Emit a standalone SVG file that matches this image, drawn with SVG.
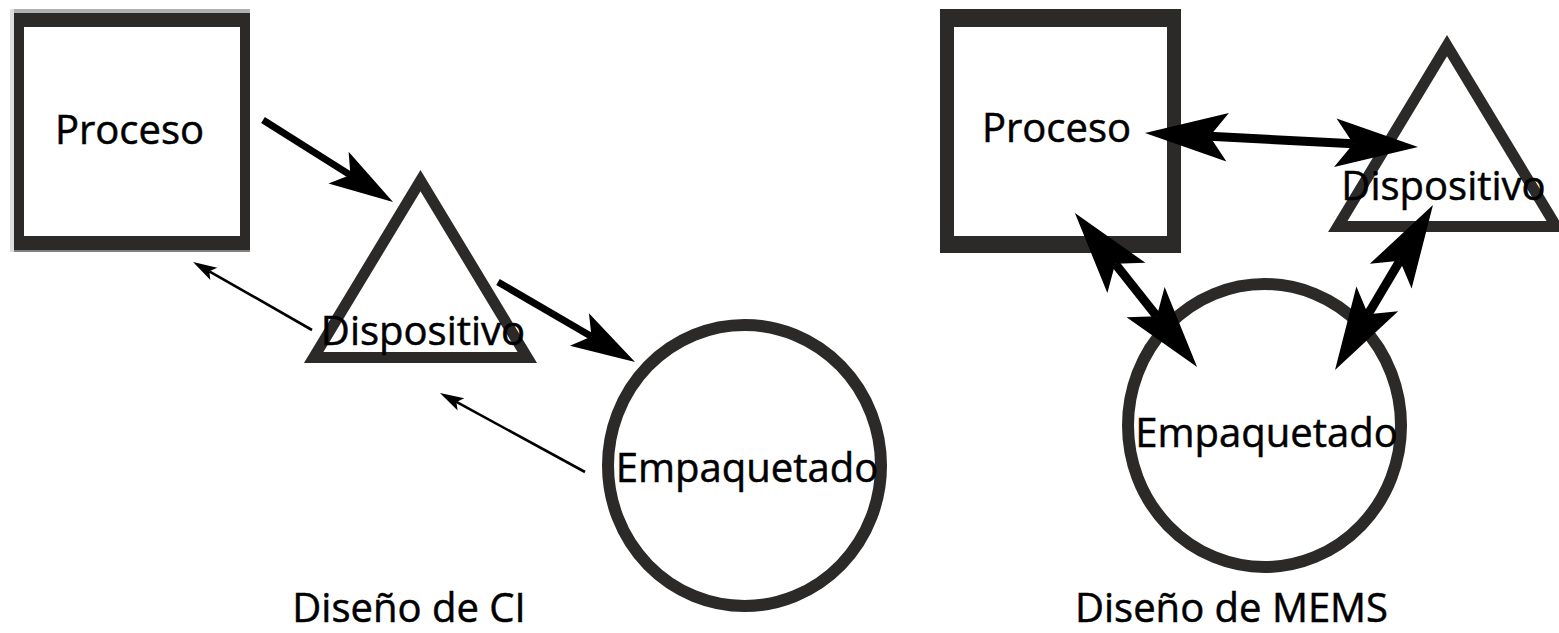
<svg xmlns="http://www.w3.org/2000/svg" width="1559" height="633" viewBox="0 0 1559 633">
  <style>
    .shape { fill: #ffffff; stroke: #2b2a28; stroke-width: 11; }
    .frame { fill: #2b2a28; fill-rule: evenodd; }
    .lbl { font-family: "Open Sans", "Liberation Sans", sans-serif; font-size: 40px; fill: #000; stroke: #000; stroke-width: 0.5; text-anchor: middle; }
    .con { stroke: #000; fill: none; stroke-linecap: butt; }
  </style>
  <defs>
    <marker id="ah" viewBox="-10 -3 10.5 6" refX="-7.2" refY="0" markerWidth="10.5" markerHeight="6" markerUnits="strokeWidth" orient="auto-start-reverse">
      <path d="M0,0 L-9.2,-2.7 L-7.2,0 L-9.2,2.7 Z" fill="#000"/>
    </marker>
  </defs>
  <rect width="1559" height="633" fill="#ffffff"/>

  <!-- Left diagram: Diseño de CI -->
  <g id="ci-proceso">
    <rect x="10" y="9" width="240" height="4" fill="#b0b0b0"/>
    <rect x="10" y="9" width="4" height="243" fill="#dddddd"/>
    <rect x="14" y="250" width="236" height="2" fill="#808080"/>
    <path class="frame" d="M14,13 H250 V250 H14 Z M24,27 V236 H240 V27 Z"/>
    <rect x="24" y="27" width="216" height="209" fill="#ffffff"/>
    <text class="lbl" x="129.5" y="144">Proceso</text>
  </g>
  <g id="ci-dispositivo">
    <polygon class="shape" points="420.5,180.6 313.7,357.5 527.3,357.5"/>
    <text class="lbl" x="423" y="345">Dispositivo</text>
  </g>
  <g id="ci-empaquetado">
    <ellipse class="shape" cx="744.5" cy="465.5" rx="136.5" ry="140.5" style="stroke-width:12"/>
    <text class="lbl" x="747" y="482">Empaquetado</text>
  </g>
  <g id="ci-title">
    <text class="lbl" x="409" y="622">Diseño de CI</text>
  </g>

  <!-- Right diagram: Diseño de MEMS -->
  <g id="mems-proceso">
    <path class="frame" d="M940,9 H1181 V253 H940 Z M954,27 V236 H1167 V27 Z"/>
    <rect x="954" y="27" width="213" height="209" fill="#ffffff"/>
    <text class="lbl" x="1056.5" y="142">Proceso</text>
  </g>
  <g id="mems-dispositivo">
    <polygon class="shape" points="1447,45.6 1337.8,226.5 1556.2,226.5"/>
    <text class="lbl" x="1443.5" y="200">Dispositivo</text>
  </g>
  <g id="mems-empaquetado">
    <ellipse class="shape" cx="1264.5" cy="425.5" rx="136.5" ry="141.5" style="stroke-width:12"/>
    <text class="lbl" x="1266.5" y="447">Empaquetado</text>
  </g>
  <g id="mems-title">
    <text class="lbl" x="1231.5" y="622">Diseño de MEMS</text>
  </g>

  <g id="connectors">
    <!-- CI -->
    <line class="con" x1="263" y1="120" x2="350.4" y2="175.1" stroke-width="7" marker-end="url(#ah)"/>
    <line class="con" x1="498" y1="282" x2="591.5" y2="336.6" stroke-width="7" marker-end="url(#ah)"/>
    <line class="con" x1="312" y1="330" x2="209.3" y2="271.3" stroke-width="2.6" marker-end="url(#ah)"/>
    <line class="con" x1="585" y1="472" x2="456.4" y2="401.9" stroke-width="2.6" marker-end="url(#ah)"/>
    <!-- MEMS -->
    <line class="con" x1="1209.7" y1="136.3" x2="1353.3" y2="143.7" stroke-width="9" marker-start="url(#ah)" marker-end="url(#ah)"/>
    <line class="con" x1="1115.2" y1="263.8" x2="1156.8" y2="316.2" stroke-width="9" marker-start="url(#ah)" marker-end="url(#ah)"/>
    <line class="con" x1="1399.9" y1="260.7" x2="1368.1" y2="314.3" stroke-width="9" marker-start="url(#ah)" marker-end="url(#ah)"/>
  </g>
</svg>
